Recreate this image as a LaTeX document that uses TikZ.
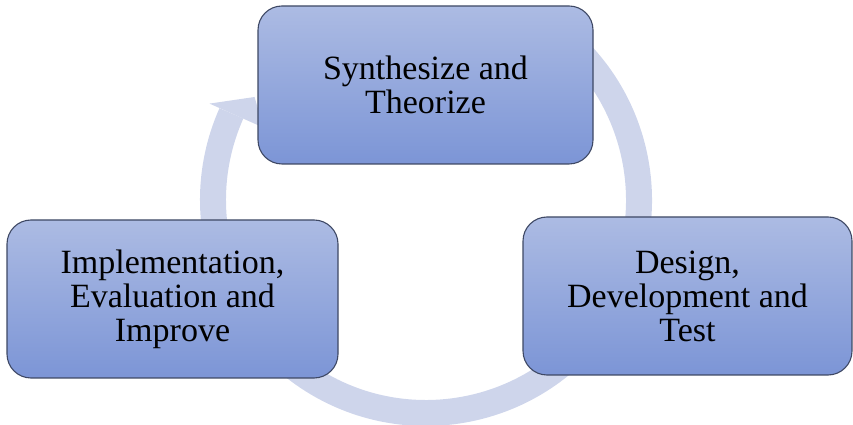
\documentclass[tikz,border=0pt]{standalone}
\usepackage{fontspec}
\setmainfont{Liberation Serif}
\definecolor{ringc}{RGB}{206,213,235}
\definecolor{boxtop}{RGB}{172,187,227}
\definecolor{boxbot}{RGB}{124,149,214}
\definecolor{boxline}{RGB}{62,72,100}
\tikzset{
  ring/.style={draw=ringc, line width=26pt},
  headc/.style={fill=ringc, draw=none},
  stagebox/.style={rounded corners=24pt, draw=boxline, line width=1.1pt,
    top color=boxtop, bottom color=boxbot, minimum height=158pt,
    align=center, inner sep=0pt,
    font=\fontsize{34}{34}\selectfont}
}
\begin{document}
\begin{tikzpicture}[x=1pt,y=1pt]
\useasboundingbox (0,0) rectangle (853,425);
\coordinate (C) at (426,225);
% ring arrow
\draw[ring] ([shift={(55:213)}]C) arc[start angle=55, end angle=-204, radius=213];
\coordinate (hb1) at ([shift={(156:237)}]C);
\coordinate (hb2) at ([shift={(156:178)}]C);
\coordinate (ht) at ([shift={(149:200)}]C);
\fill[headc] (hb1) -- (ht) -- (hb2) -- cycle;
% boxes
\node[stagebox, minimum width=335pt] (top) at (425.5,340) {Synthesize and\\Theorize};
\node[stagebox, minimum width=331pt] (left) at (172.5,126) {Implementation,\\Evaluation and\\Improve};
\node[stagebox, minimum width=329pt] (right) at (687.5,129) {Design,\\Development and\\Test};
\end{tikzpicture}
\end{document}
